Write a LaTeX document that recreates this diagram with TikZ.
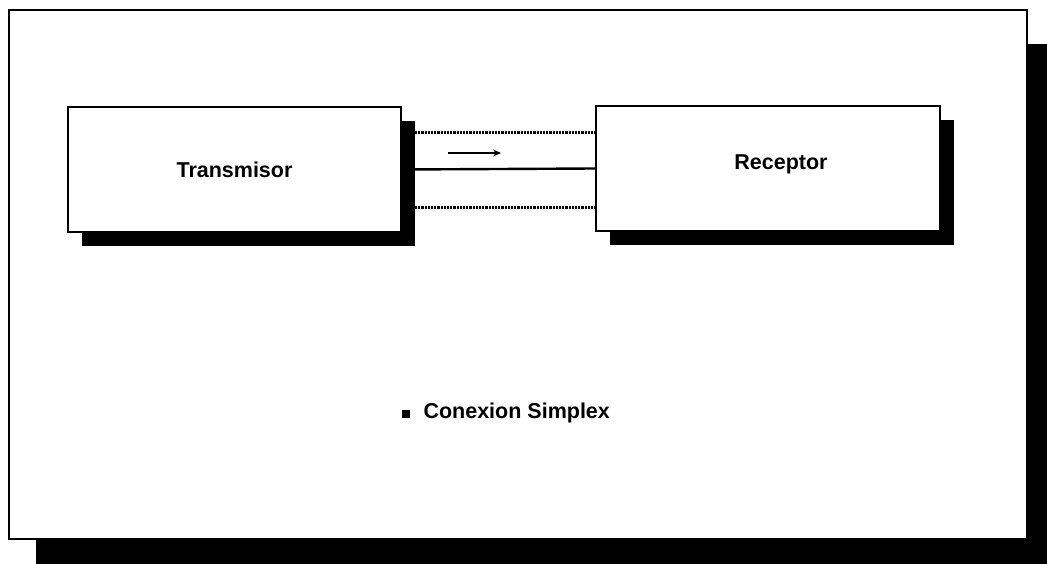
\documentclass[tikz,border=0pt]{standalone}
\usepackage{fontspec}
\setmainfont{Liberation Sans}
\usetikzlibrary{shadows,arrows.meta}

\tikzset{
  labelfont/.style={font=\bfseries\fontsize{21.5}{24}\selectfont},
  unitbox/.style={draw,fill=white,line width=2.4pt,minimum width=#1,minimum height=125pt,
    inner sep=0pt,labelfont,
    drop shadow={shadow xshift=14pt,shadow yshift=-14pt,opacity=1,fill=black}},
  dotline/.style={line width=2.2pt,densely dotted}
}

\begin{document}
\begin{tikzpicture}[x=1pt,y=-1pt]
\useasboundingbox (0,0) rectangle (1047,564);
% frame and its shadow
\fill[black] (36,44) rectangle (1047,564);
\draw[line width=2.6pt,fill=white] (9,10) rectangle (1027,539);
% the two ends
\node[unitbox=333pt] (tx) at (234.5,169.5) {Transmisor};
\node[unitbox=344pt] (rx) at (768,168.5) {};
\node[labelfont] (rxtext) at (781,164) {Receptor};
% channel
\draw[dotline] ([yshift=37pt]tx.east) -- ([yshift=37pt]tx.east -| rx.west);
\draw[line width=2.4pt] (tx.east) -- (rx.west);
\draw[dotline] ([yshift=-38pt]tx.east) -- ([yshift=-38pt]tx.east -| rx.west);
\coordinate (dirA) at (448,153);
\coordinate (dirB) at (501,153);
\draw[line width=2.4pt,-{Stealth[length=8pt,width=7pt]}] (dirA) -- (dirB);
% caption
\node[fill=black,minimum size=8pt,inner sep=0pt] (bullet) at (406,414) {};
\node[anchor=west,labelfont] (simplex) at (420,413) {Conexion Simplex};
\end{tikzpicture}
\end{document}
